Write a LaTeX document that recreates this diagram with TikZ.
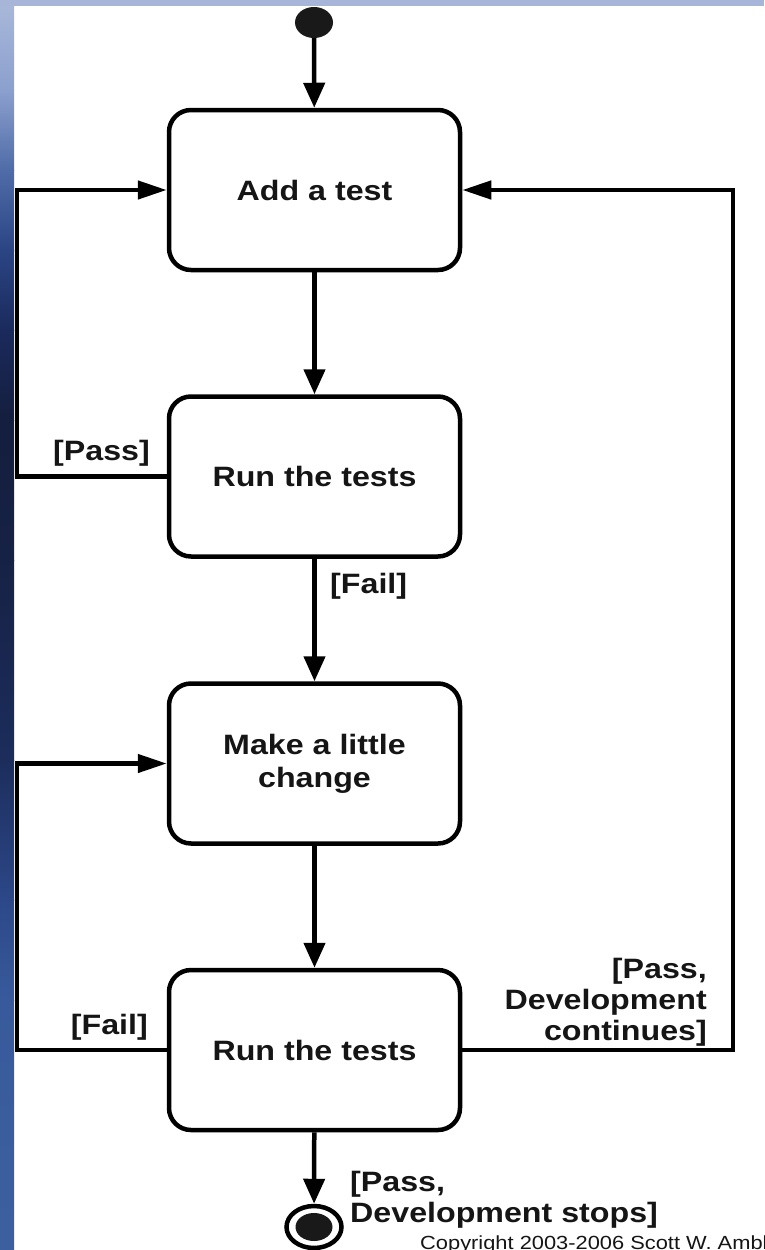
\documentclass[tikz,border=0pt]{standalone}
\usepackage{fontspec}
\setmainfont{Liberation Sans}[FakeStretch=1.15]
\usetikzlibrary{arrows.meta,shapes.geometric}
\definecolor{txt}{HTML}{151515}
\definecolor{topstrip}{HTML}{A7B6D8}
\definecolor{s0}{HTML}{A9B9DA}
\definecolor{s1}{HTML}{8CA0CE}
\definecolor{s2}{HTML}{4F6CA8}
\definecolor{s3}{HTML}{2B4584}
\definecolor{s4}{HTML}{1A2A5C}
\definecolor{s5}{HTML}{141E3E}
\definecolor{s6}{HTML}{162245}
\definecolor{s7}{HTML}{1C2D5C}
\definecolor{s8}{HTML}{2C4888}
\definecolor{s9}{HTML}{385A9C}
\definecolor{s10}{HTML}{3C609F}
\begin{document}
\begin{tikzpicture}[x=1pt,y=-1pt,
  box/.style={draw, line width=4.5pt, rounded corners=22pt, minimum width=291pt,
    minimum height=160pt, inner sep=0pt, align=center,
    font=\fontsize{28}{33}\selectfont\bfseries, text=txt},
  lbl/.style={inner sep=0pt, font=\fontsize{28}{31}\selectfont\bfseries, text=txt},
  conn/.style={line width=4.5pt},
  varrow/.style={conn, -{Triangle[length=25pt,width=21pt]}},
  harrow/.style={conn, -{Triangle[length=29pt,width=18pt]}},
  startdot/.style={ellipse, fill=black!90, minimum width=38pt, minimum height=31pt, inner sep=0pt},
  endring/.style={ellipse, draw, line width=4.5pt, minimum width=55pt, minimum height=42pt, inner sep=0pt},
  enddot/.style={ellipse, fill=black!90, minimum width=37pt, minimum height=28pt, inner sep=0pt}
]
\useasboundingbox (0,0) rectangle (764,1250);
\fill[white] (0,0) rectangle (764,1250);
% background strips
\shade[top color=s0, bottom color=s1] (0,0) rectangle (14,90);
\shade[top color=s1, bottom color=s2] (0,90) rectangle (14,170);
\shade[top color=s2, bottom color=s3] (0,170) rectangle (14,250);
\shade[top color=s3, bottom color=s4] (0,250) rectangle (14,330);
\shade[top color=s4, bottom color=s5] (0,330) rectangle (14,420);
\shade[top color=s5, bottom color=s6] (0,420) rectangle (14,560);
\shade[top color=s6, bottom color=s7] (0,560) rectangle (14,760);
\shade[top color=s7, bottom color=s8] (0,760) rectangle (14,900);
\shade[top color=s8, bottom color=s9] (0,900) rectangle (14,1000);
\shade[top color=s9, bottom color=s10] (0,1000) rectangle (14,1250);
\fill[topstrip] (0,0) rectangle (764,6);

% nodes
\node[startdot] (start) at (314,22.5) {};
\node[box] (b1) at (314.5,190) {Add a test};
\node[box] (b2) at (314.5,476.5) {Run the tests};
\node[box] (b3) at (314.5,763.5) {Make a little\\change};
\node[box] (b4) at (314.5,1050) {Run the tests};
\node[endring] (end) at (314,1227) {};
\node[enddot] (enddot) at (end) {};

\coordinate (L) at (17,0);
\coordinate (R) at (733,0);

% connectors
\draw[varrow] (start) -- (b1);
\draw[varrow] (b1) -- (b2);
\draw[varrow] (b2) -- (b3);
\draw[varrow] (b3) -- (b4);
\draw[varrow] (b4) -- (end);
\draw[harrow] (b2.west) -- (b2.west -| L) -- (b1.west -| L) -- (b1.west);
\draw[harrow] (b4.east) -- (b4.east -| R) -- (b1.east -| R) -- (b1.east);
\draw[harrow] (b4.west) -- (b4.west -| L) -- (b3.west -| L) -- (b3.west);

% labels
\node[lbl, anchor=base east] (lpass) at (150,460) {[Pass]};
\node[lbl, anchor=base west] (lfail1) at (330,593) {[Fail]};
\node[lbl, anchor=base east] (lfail2) at (148,1034) {[Fail]};
\node[lbl, anchor=base east, align=right] (lcont) at (707,1040) {[Pass,\\Development\\continues]};
\node[lbl, anchor=base west, align=left] (lstop) at (350,1222) {[Pass,\\Development stops]};

\begin{scope}
\clip (0,0) rectangle (764,1250);
\node[anchor=base west, inner sep=0pt, font=\fontsize{19}{22}\selectfont, text=txt] (copy) at (420,1249) {Copyright 2003-2006 Scott W. Ambler};
\end{scope}
\end{tikzpicture}
\end{document}
